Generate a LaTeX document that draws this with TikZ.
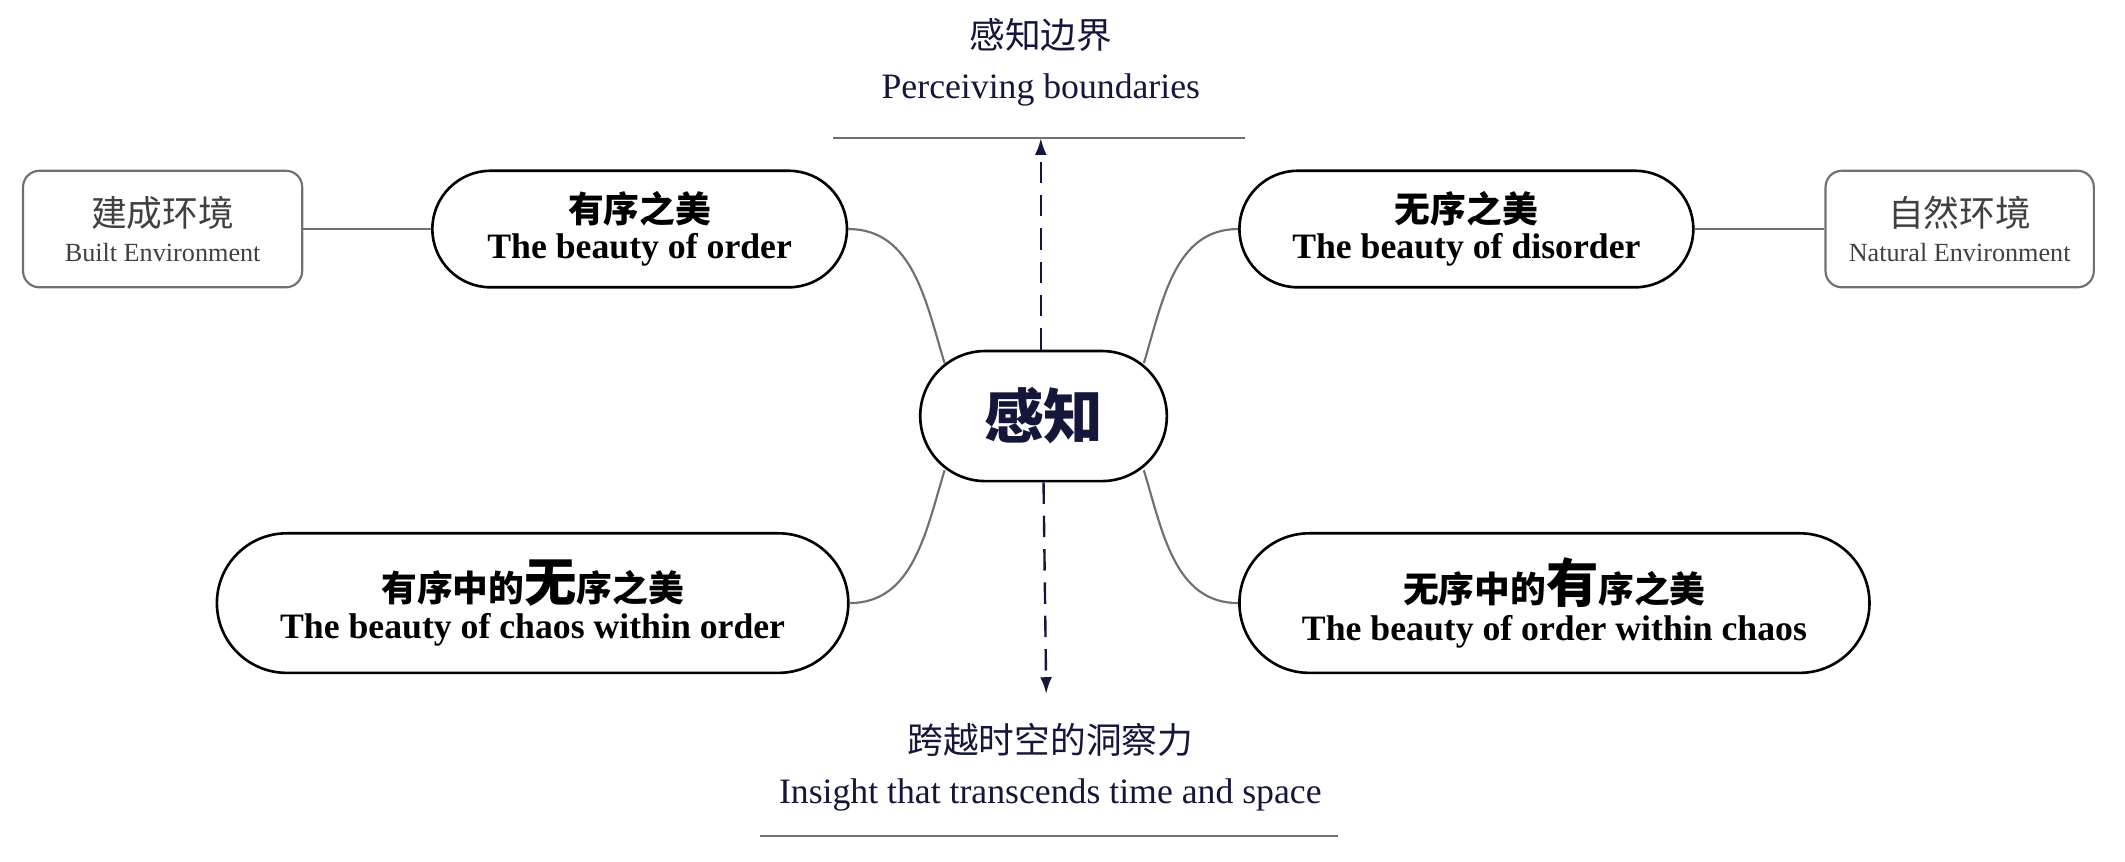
\documentclass[tikz,border=0pt]{standalone}
\usepackage{fontspec}
\setmainfont{Liberation Serif}
\newfontfamily\cjk{Noto Sans CJK SC}
\usetikzlibrary{calc,arrows.meta}
\definecolor{inkblue}{HTML}{14163A}
\definecolor{linegray}{HTML}{707070}
\tikzset{
  pill/.style={draw=black,line width=1.1pt,fill=white,rounded corners=0.86cm,
    minimum height=1.72cm,align=center,inner sep=0pt},
  envbox/.style={draw=linegray,line width=0.9pt,rounded corners=0.24cm,
    minimum width=4.12cm,minimum height=1.72cm,align=center,inner sep=0pt,text=black!75},
  branch/.style={linegray,line width=0.9pt},
  axis/.style={inkblue,line width=1pt,dash pattern=on 9pt off 5pt,-{Latex[length=7pt,width=5pt]}},
  rule/.style={linegray,line width=0.9pt},
  cn/.style={font=\cjk\bfseries\fontsize{15}{18}\selectfont},
  en/.style={font=\bfseries\fontsize{15}{18}\selectfont}
}
\begin{document}
\begin{tikzpicture}[x=0.02cm,y=-0.02cm]
  \useasboundingbox (0,0) rectangle (1568,636);

  % centre and branches
  \node[pill,minimum width=3.64cm,rounded corners=0.96cm,minimum height=1.92cm,
    text=inkblue,font=\cjk\bfseries\fontsize{25}{30}\selectfont] (core) at (770,307) {感知};
  \node[pill,minimum width=6.12cm] (order) at (472,169)
    {{\cjk\bfseries\fontsize{15}{18}\selectfont 有序之美}\\[2pt]{\bfseries\fontsize{15}{18}\selectfont The beauty of order}};
  \node[pill,minimum width=6.7cm] (disorder) at (1082,169)
    {{\cjk\bfseries\fontsize{15}{18}\selectfont 无序之美}\\[2pt]{\bfseries\fontsize{15}{18}\selectfont The beauty of disorder}};
  \node[pill,minimum width=9.32cm,minimum height=2.06cm,rounded corners=1.03cm] (chaosin) at (393,445)
    {{\cjk\bfseries\fontsize{15}{18}\selectfont 有序中的{\fontsize{22}{22}\selectfont 无}序之美}\\[2pt]{\bfseries\fontsize{15}{18}\selectfont The beauty of chaos within order}};
  \node[pill,minimum width=9.3cm,minimum height=2.06cm,rounded corners=1.03cm] (orderin) at (1147,445)
    {{\cjk\bfseries\fontsize{15}{18}\selectfont 无序中的{\fontsize{22}{22}\selectfont 有}序之美}\\[2pt]{\bfseries\fontsize{15}{18}\selectfont The beauty of order within chaos}};

  \node[envbox] (built) at (120,169)
    {{\cjk\fontsize{15}{18}\selectfont 建成环境}\\[3pt]{\fontsize{11}{13}\selectfont Built Environment}};
  \node[envbox,minimum width=3.96cm] (natural) at (1446,169)
    {{\cjk\fontsize{15}{18}\selectfont 自然环境}\\[3pt]{\fontsize{11}{13}\selectfont Natural Environment}};

  % labels on the axis
  \node[text=inkblue,align=center,font=\fontsize{15}{18}\selectfont] (bound) at (768,46)
    {{\cjk 感知边界}\\[3pt]Perceiving boundaries};
  \node[text=inkblue,align=center,font=\fontsize{15}{18}\selectfont] (insight) at (775,566)
    {{\cjk 跨越时空的洞察力}\\[3pt]Insight that transcends time and space};
  \coordinate (top) at (768,102);
  \coordinate (bottom) at (772,512);
  \draw[rule] (615,102) -- (919,102);
  \draw[rule] (561,617) -- (987,617);

  \coordinate (cNW) at (697,268);
  \coordinate (cNE) at (844,268);
  \coordinate (cSW) at (697,347);
  \coordinate (cSE) at (844,347);

  \begin{scope}[on background layer/.style={}]
    \draw[branch] (built) -- (order);
    \draw[branch] (natural) -- (disorder);
    \draw[branch] (order.east) to[out=0,in=107] (cNW);
    \draw[branch] (disorder.west) to[out=180,in=73] (cNE);
    \draw[branch] (chaosin.east) to[out=0,in=253] (cSW);
    \draw[branch] (orderin.west) to[out=180,in=287] (cSE);
  \end{scope}

  \draw[axis] (core.north -| top) -- (top);
  \draw[axis] ($(core.south)+(0,0)$) -- (bottom);
\end{tikzpicture}
\end{document}
